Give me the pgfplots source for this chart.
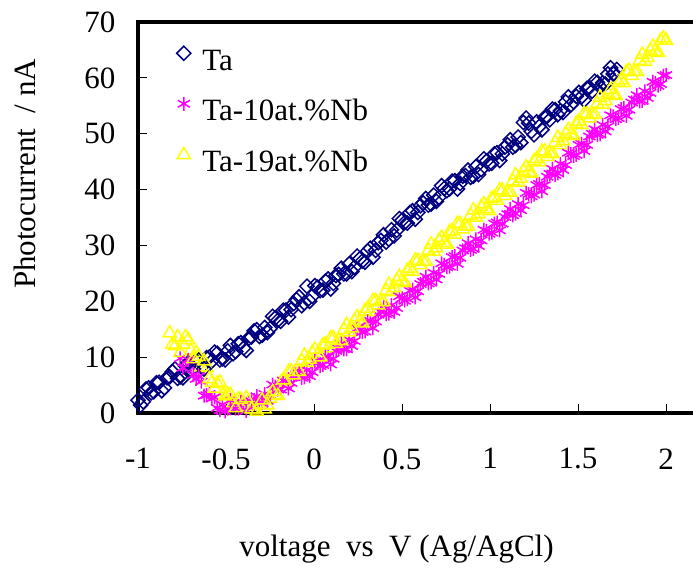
\documentclass[border=0pt]{standalone}
\usepackage{fontspec}
\setmainfont{Liberation Serif}
\usepackage{pgfplots}
\pgfplotsset{compat=1.18}
\definecolor{navyc}{RGB}{0,0,128}
\definecolor{magc}{RGB}{255,0,255}
\definecolor{yelc}{RGB}{255,255,0}
\pgfplotsset{
  tastyle/.style={navyc, only marks, mark=square, mark size=5pt, mark options={rotate=45, line width=1.5pt}},
  tbstyle/.style={magc, only marks, mark=asterisk, mark size=7pt, mark options={line width=1.5pt}},
  tcstyle/.style={yelc, only marks, mark=triangle, mark size=7.5pt, mark options={line width=1.5pt}},
}
\begin{document}
\begin{tikzpicture}
\path[use as bounding box] (0,0) rectangle (693pt,570pt);
\begin{axis}[
  at={(138pt,157pt)}, anchor=south west,
  scale only axis, width=563.2pt, height=391pt,
  xmin=-1, xmax=2.2, ymin=0, ymax=70,
  xtick={-1,-0.5,0,0.5,1,1.5,2}, ytick={0,10,20,30,40,50,60,70},
  tick align=inside, xtick pos=bottom, ytick pos=left,
  major tick length=9pt,
  every tick/.style={black, line width=0.8pt},
  axis line style={line width=3.5pt},
  clip=false,
  /pgf/number format/assume math mode=true,
  tick label style={font=\fontsize{31}{37}\selectfont},
  xticklabel style={yshift=-32pt},
  yticklabel style={xshift=-19pt},
  legend image code/.code={\draw[mark repeat=1,#1] plot coordinates {(0pt,9pt)};},
  legend cell align=left,
  legend style={at={(axis description cs:0.0684,0.9386)}, anchor=north west,
    draw=none, fill=none, inner sep=0pt, row sep=20.5pt, column sep=11.5pt,
    font=\fontsize{31}{37}\selectfont,
    nodes={inner sep=0pt, text height=22pt, text depth=6pt}},
]
\addplot[tastyle] coordinates {
(-1.00,2.3) (-0.97,2.0) (-0.94,4.5) (-0.91,3.8) (-0.88,5.5) (-0.85,4.5) (-0.82,6.5) (-0.79,7.9)
(-0.76,6.5) (-0.73,8.4) (-0.70,7.7) (-0.67,9.4) (-0.64,8.2) (-0.61,9.9) (-0.58,9.3) (-0.55,10.7)
(-0.52,9.7) (-0.49,11.1) (-0.46,10.6) (-0.43,12.4) (-0.40,11.6) (-0.37,13.4) (-0.34,14.7) (-0.31,13.7)
(-0.28,15.3) (-0.25,15.1) (-0.22,17.0) (-0.19,16.4) (-0.16,18.4) (-0.13,18.5) (-0.10,20.3) (-0.07,19.2)
(-0.04,22.7) (-0.01,20.9) (0.02,22.5) (0.05,22.0) (0.08,24.0) (0.11,23.2) (0.14,24.8) (0.17,24.9)
(0.20,26.7) (0.23,26.1) (0.26,27.6) (0.29,27.0) (0.32,29.5) (0.35,29.1) (0.38,30.9) (0.41,30.6)
(0.44,32.8) (0.47,32.7) (0.50,34.5) (0.53,34.0) (0.56,36.2) (0.59,35.9) (0.62,37.6) (0.65,37.2)
(0.68,39.0) (0.71,38.6) (0.74,40.2) (0.77,40.1) (0.80,41.6) (0.83,41.1) (0.86,42.5) (0.89,42.2)
(0.92,44.1) (0.95,43.6) (0.98,45.1) (1.01,44.7) (1.04,46.6) (1.07,46.4) (1.10,48.0) (1.13,47.6)
(1.16,49.4) (1.19,52.0) (1.22,51.9) (1.25,49.8) (1.28,51.3) (1.31,52.9) (1.34,52.5) (1.37,54.3)
(1.40,54.1) (1.43,55.7) (1.46,55.2) (1.49,56.7) (1.52,56.6) (1.55,58.1) (1.58,57.6) (1.61,59.2)
(1.64,59.1) (1.67,60.7) (1.70,60.7) (1.72,61.5)
};
\addlegendentry{Ta}
\addplot[tbstyle] coordinates {
(-0.76,9.8) (-0.73,8.2) (-0.70,8.3) (-0.67,6.1) (-0.64,5.6) (-0.61,3.2) (-0.58,2.6) (-0.55,0.9)
(-0.52,1.5) (-0.49,0.8) (-0.46,1.7) (-0.43,0.8) (-0.40,1.8) (-0.37,1.1) (-0.34,2.3) (-0.31,1.9)
(-0.28,3.4) (-0.25,3.2) (-0.22,4.7) (-0.19,4.2) (-0.16,5.8) (-0.13,5.4) (-0.10,6.9) (-0.07,6.3)
(-0.04,7.7) (-0.01,7.3) (0.02,9.0) (0.05,8.6) (0.08,10.1) (0.11,9.7) (0.14,11.5) (0.17,11.4)
(0.20,13.1) (0.23,12.9) (0.26,14.8) (0.29,14.6) (0.32,16.5) (0.35,16.4) (0.38,18.1) (0.41,17.7)
(0.44,19.3) (0.47,18.8) (0.50,20.5) (0.53,20.4) (0.56,22.1) (0.59,21.8) (0.62,23.5) (0.65,23.2)
(0.68,25.1) (0.71,24.9) (0.74,26.5) (0.77,26.2) (0.80,28.1) (0.83,27.8) (0.86,29.5) (0.89,29.2)
(0.92,31.1) (0.95,30.9) (0.98,32.6) (1.01,32.3) (1.04,34.1) (1.07,33.9) (1.10,35.6) (1.13,35.4)
(1.16,37.4) (1.19,37.2) (1.22,39.2) (1.25,39.1) (1.28,41.0) (1.31,40.8) (1.34,42.8) (1.37,42.6)
(1.40,44.6) (1.43,44.4) (1.46,46.4) (1.49,46.2) (1.52,48.2) (1.55,48.0) (1.58,50.0) (1.61,49.8)
(1.64,51.6) (1.67,51.3) (1.70,53.1) (1.73,52.8) (1.76,54.6) (1.79,54.3) (1.82,56.1) (1.85,55.8)
(1.88,57.6) (1.91,57.3) (1.94,59.1) (1.97,58.9) (2.00,60.5)
};
\addlegendentry{Ta-10at.\%Nb}
\addplot[tcstyle] coordinates {
(-0.82,14.3) (-0.79,12.0) (-0.76,10.8) (-0.73,13.6) (-0.70,11.2) (-0.67,10.8) (-0.64,8.2) (-0.61,8.1)
(-0.58,5.5) (-0.55,5.3) (-0.52,3.2) (-0.49,3.3) (-0.46,1.8) (-0.43,2.5) (-0.40,1.2) (-0.37,2.1)
(-0.34,0.7) (-0.31,1.5) (-0.28,0.7) (-0.25,2.6) (-0.22,3.3) (-0.19,5.4) (-0.16,5.5) (-0.13,7.5)
(-0.10,7.6) (-0.07,9.3) (-0.04,9.0) (-0.01,10.8) (0.02,10.4) (0.05,12.1) (0.08,11.6) (0.11,13.4)
(0.14,13.0) (0.17,14.9) (0.20,14.5) (0.23,16.5) (0.26,16.3) (0.29,18.3) (0.32,18.1) (0.35,20.1)
(0.38,19.9) (0.41,21.9) (0.44,21.7) (0.47,23.7) (0.50,23.5) (0.53,25.5) (0.56,25.3) (0.59,27.3)
(0.62,27.1) (0.65,29.1) (0.68,28.9) (0.71,30.9) (0.74,30.5) (0.77,32.4) (0.80,32.0) (0.83,33.9)
(0.86,33.5) (0.89,35.4) (0.92,35.0) (0.95,36.9) (0.98,36.5) (1.01,38.4) (1.04,38.0) (1.07,39.9)
(1.10,39.5) (1.13,41.5) (1.16,41.3) (1.19,43.3) (1.22,43.1) (1.25,45.1) (1.28,44.9) (1.31,46.9)
(1.34,46.5) (1.37,48.4) (1.40,48.0) (1.43,50.0) (1.46,49.8) (1.49,51.8) (1.52,51.6) (1.55,53.6)
(1.58,53.4) (1.61,55.4) (1.64,55.2) (1.67,57.2) (1.70,57.0) (1.73,59.2) (1.76,59.1) (1.79,61.3)
(1.82,61.1) (1.85,63.1) (1.88,62.9) (1.91,64.9) (1.94,64.7) (1.97,66.7) (2.00,66.7)
};
\addlegendentry{Ta-19at.\%Nb}
% second sweep of each series
\addplot[tastyle, forget plot] coordinates {
(-0.985,1.4) (-0.955,4.3) (-0.925,3.6) (-0.895,5.4) (-0.865,4.0) (-0.835,6.3) (-0.805,7.4) (-0.775,6.2)
(-0.745,6.3) (-0.715,9.0) (-0.685,7.9) (-0.655,9.5) (-0.625,7.9) (-0.595,10.0) (-0.565,10.9) (-0.535,9.5)
(-0.505,9.5) (-0.475,12.1) (-0.445,11.0) (-0.415,12.6) (-0.385,11.2) (-0.355,13.6) (-0.325,14.9) (-0.295,13.9)
(-0.265,14.4) (-0.235,17.3) (-0.205,16.6) (-0.175,18.4) (-0.145,17.2) (-0.115,19.6) (-0.085,20.8) (-0.055,19.7)
(-0.025,20.0) (0.005,22.8) (0.035,21.9) (0.065,23.6) (0.095,22.2) (0.125,24.6) (0.155,25.9) (0.185,24.9)
(0.215,25.3) (0.245,28.1) (0.275,27.2) (0.305,29.0) (0.335,27.9) (0.365,30.5) (0.395,31.9) (0.425,31.1)
(0.455,31.7) (0.485,34.8) (0.515,34.1) (0.545,35.9) (0.575,34.7) (0.605,37.1) (0.635,38.4) (0.665,37.4)
(0.695,37.9) (0.725,40.7) (0.755,39.8) (0.785,41.5) (0.815,40.1) (0.845,42.4) (0.875,43.5) (0.905,42.4)
(0.935,42.7) (0.965,45.5) (0.995,44.6) (1.025,46.4) (1.055,45.2) (1.085,47.6) (1.115,48.9) (1.145,47.9)
(1.175,48.4) (1.205,52.8) (1.235,50.4) (1.265,52.1) (1.295,50.7) (1.325,53.1) (1.355,54.4) (1.385,53.4)
(1.415,53.8) (1.445,56.6) (1.475,55.7) (1.505,57.4) (1.535,56.0) (1.565,58.3) (1.595,59.4) (1.625,58.4)
(1.655,58.9) (1.685,61.8) (1.705,60.8)
};
\addplot[tbstyle, forget plot] coordinates {
(-0.745,8.1) (-0.715,9.5) (-0.685,6.8) (-0.655,6.6) (-0.625,3.1) (-0.595,3.4) (-0.565,2.8) (-0.535,0.5)
(-0.505,0.3) (-0.475,2.3) (-0.445,0.8) (-0.415,2.0) (-0.385,0.4) (-0.355,2.1) (-0.325,3.0) (-0.295,1.8)
(-0.265,2.2) (-0.235,5.1) (-0.205,4.2) (-0.175,5.8) (-0.145,4.4) (-0.115,6.6) (-0.085,7.6) (-0.055,6.4)
(-0.025,6.6) (0.005,9.3) (0.035,8.4) (0.065,10.1) (0.095,8.7) (0.125,11.1) (0.155,12.4) (0.185,11.4)
(0.215,12.0) (0.245,15.1) (0.275,14.5) (0.305,16.4) (0.335,15.2) (0.365,17.6) (0.395,18.9) (0.425,17.8)
(0.455,18.1) (0.485,20.9) (0.515,20.1) (0.545,21.9) (0.575,20.7) (0.605,23.1) (0.635,24.4) (0.665,23.4)
(0.695,23.9) (0.725,26.8) (0.755,26.1) (0.785,27.9) (0.815,26.7) (0.845,29.1) (0.875,30.4) (0.905,29.4)
(0.935,29.9) (0.965,32.8) (0.995,32.1) (1.025,33.9) (1.055,32.7) (1.085,35.1) (1.115,36.5) (1.145,35.7)
(1.175,36.3) (1.205,39.4) (1.235,38.8) (1.265,40.8) (1.295,39.7) (1.325,42.3) (1.355,43.7) (1.385,42.9)
(1.415,43.5) (1.445,46.6) (1.475,46.0) (1.505,48.0) (1.535,46.9) (1.565,49.5) (1.595,50.8) (1.625,49.9)
(1.655,50.4) (1.685,53.3) (1.715,52.6) (1.745,54.4) (1.775,53.2) (1.805,55.6) (1.835,56.9) (1.865,55.9)
(1.895,56.4) (1.925,59.3) (1.955,58.6) (1.985,60.4)
};
\addplot[tcstyle, forget plot] coordinates {
(-0.805,12.3) (-0.775,13.6) (-0.745,12.3) (-0.715,13.1) (-0.685,9.7) (-0.655,10.1) (-0.625,9.3) (-0.595,6.1)
(-0.565,4.4) (-0.535,5.5) (-0.505,3.0) (-0.475,3.3) (-0.445,0.9) (-0.415,2.4) (-0.385,2.7) (-0.355,0.7)
(-0.325,0.3) (-0.295,2.3) (-0.265,1.4) (-0.235,3.8) (-0.205,3.1) (-0.175,5.9) (-0.145,7.4) (-0.115,6.8)
(-0.085,7.4) (-0.055,10.3) (-0.025,9.6) (0.005,11.4) (0.035,10.0) (0.065,12.3) (0.095,13.4) (0.125,12.4)
(0.155,12.9) (0.185,15.8) (0.215,15.2) (0.245,17.2) (0.275,16.1) (0.305,18.7) (0.335,20.1) (0.365,19.3)
(0.395,19.9) (0.425,23.0) (0.455,22.4) (0.485,24.4) (0.515,23.3) (0.545,25.9) (0.575,27.3) (0.605,26.5)
(0.635,27.1) (0.665,30.2) (0.695,29.5) (0.725,31.4) (0.755,30.2) (0.785,32.6) (0.815,33.9) (0.845,32.9)
(0.875,33.4) (0.905,36.3) (0.935,35.6) (0.965,37.4) (0.995,36.2) (1.025,38.6) (1.055,39.9) (1.085,38.9)
(1.115,39.5) (1.145,42.6) (1.175,42.0) (1.205,44.0) (1.235,42.9) (1.265,45.5) (1.295,46.8) (1.325,45.9)
(1.355,46.4) (1.385,49.3) (1.415,48.7) (1.445,50.7) (1.475,49.6) (1.505,52.2) (1.535,53.6) (1.565,52.8)
(1.595,53.4) (1.625,56.5) (1.655,55.9) (1.685,57.9) (1.715,56.8) (1.745,59.6) (1.775,61.1) (1.805,60.4)
(1.835,61.1) (1.865,64.2) (1.895,63.6) (1.925,65.6) (1.955,64.5) (1.985,67.1)
};
\end{axis}
\node[rotate=90, anchor=base, font=\fontsize{31}{37}\selectfont] at (36pt,396pt) {Photocurrent\ \ / nA};
\node[anchor=base, font=\fontsize{31}{37}\selectfont] at (396.5pt,13pt) {voltage\ \ vs\ \ V (Ag/AgCl)};
\end{tikzpicture}
\end{document}
